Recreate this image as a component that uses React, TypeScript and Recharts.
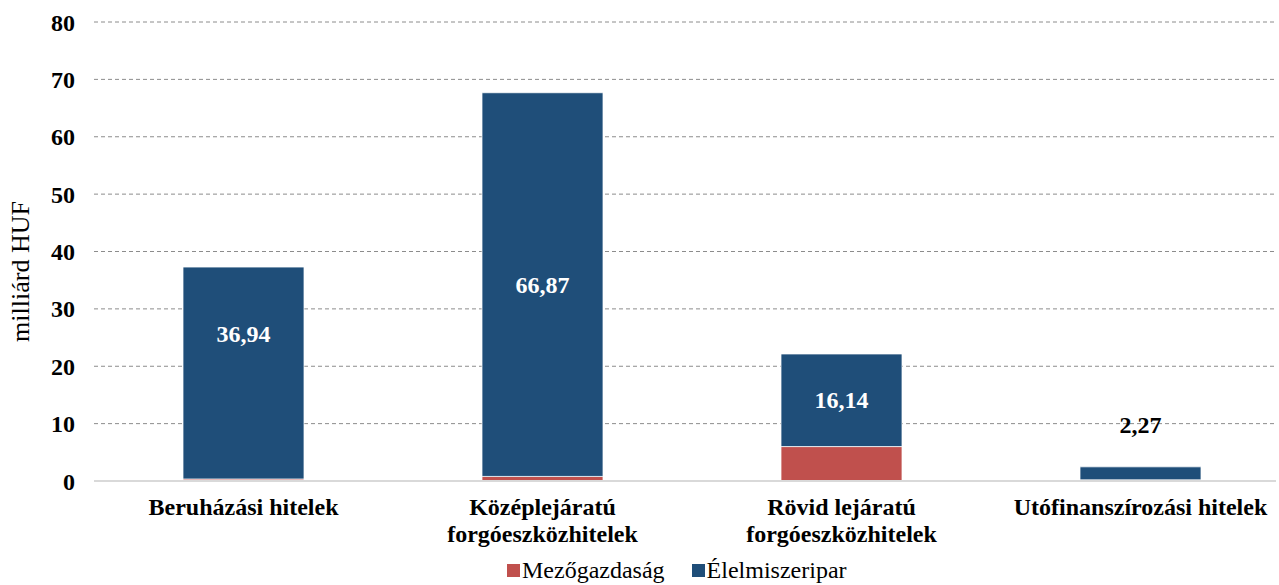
import { BarChart, Bar, XAxis, YAxis, CartesianGrid, Legend, LabelList } from 'recharts';

const CATEGORIES = [
  'Beruházási hitelek',
  'Középlejáratú\nforgóeszközhitelek',
  'Rövid lejáratú\nforgóeszközhitelek',
  'Utófinanszírozási hitelek',
];
const MEZOGAZDASAG = [0.35, 0.8, 6.0, 0.2];
const ELELMISZERIPAR = [36.94, 66.87, 16.14, 2.27];
const Y_TICKS = [0, 10, 20, 30, 40, 50, 60, 70, 80];

const RED = '#c0504d';
const BLUE = '#1f4e79';
const FONT = '"Liberation Serif", "Times New Roman", serif';

// label nudges (px) for the inside labels, as in the original
const LABEL_SHIFT = [-39, 0, 0, 0];

const data = CATEGORIES.map((name, i) => ({
  name,
  mezo: MEZOGAZDASAG[i],
  elel: ELELMISZERIPAR[i],
}));

const fmt = (v: number) => v.toFixed(2).replace('.', ',');

function CategoryTick({ x, y, payload }: any) {
  const lines = String(payload.value).split('\n');
  return (
    <text x={x} y={y} textAnchor="middle" fontFamily={FONT} fontWeight="bold" fontSize={24} fill="#000">
      {lines.map((l, i) => (
        <tspan key={i} x={x} dy={i === 0 ? 26 : 27}>{l}</tspan>
      ))}
    </text>
  );
}

function ValueLabel(props: any) {
  const { x, y, width, height, value, index } = props;
  const cx = x + width / 2;
  if (height > 40) {
    return (
      <text x={cx} y={y + height / 2 + LABEL_SHIFT[index]} textAnchor="middle" dominantBaseline="central"
        fontFamily={FONT} fontWeight="bold" fontSize={24} fill="#fff">
        {fmt(value)}
      </text>
    );
  }
  return (
    <text x={cx} y={y - 42} textAnchor="middle" dominantBaseline="central"
      fontFamily={FONT} fontWeight="bold" fontSize={24} fill="#000">
      {fmt(value)}
    </text>
  );
}

function LegendContent() {
  const items = [
    { label: 'Mezőgazdaság', color: RED },
    { label: 'Élelmiszeripar', color: BLUE },
  ];
  return (
    <div style={{ display: 'flex', height: 30, alignItems: 'center', fontFamily: FONT, fontSize: 24, color: '#000' }}>
      {items.map(it => (
        <span key={it.label} style={{ display: 'flex', alignItems: 'center', marginRight: 27 }}>
          <span style={{ width: 13, height: 13, background: it.color, marginRight: 2, display: 'inline-block' }} />
          {it.label}
        </span>
      ))}
    </div>
  );
}

export default function App() {
  return (
    <div style={{ position: 'absolute', left: 0, top: 0, width: 1276, height: 585, overflow: 'hidden', background: '#fff' }}>
      <BarChart width={1300} height={585} data={data} margin={{ top: 22, right: 10, left: 0, bottom: 0 }}>
        <CartesianGrid vertical={false} stroke="#8c8c8c" strokeDasharray="4 3" />
        <XAxis dataKey="name" height={74} tick={<CategoryTick />} tickLine={false} interval={0}
          axisLine={{ stroke: '#d9d9d9', strokeWidth: 2 }} />
        <YAxis width={94} domain={[0, 80]} ticks={Y_TICKS} axisLine={false} tickLine={false}
          tickSize={0} tickMargin={19}
          tick={{ fontFamily: FONT, fontWeight: 'bold', fontSize: 24, fill: '#000' }}
          label={{
            content: ({ viewBox }: any) => (
              <text transform={`rotate(-90 ${viewBox.x + 20} ${viewBox.y + viewBox.height / 2 + 20})`}
                x={viewBox.x + 20} y={viewBox.y + viewBox.height / 2 + 20}
                textAnchor="middle" dominantBaseline="central" fontFamily={FONT} fontSize={26} fill="#000">
                milliárd HUF
              </text>
            ),
          }} />
        <Legend verticalAlign="bottom" content={<LegendContent />}
          wrapperStyle={{ left: 507, width: 420, bottom: 0, height: 30 }} />
        <Bar dataKey="mezo" name="Mezőgazdaság" stackId="a" fill={RED} barSize={121}
          stroke="#ffffff" strokeWidth={0.75} isAnimationActive={false} />
        <Bar dataKey="elel" name="Élelmiszeripar" stackId="a" fill={BLUE} barSize={121}
          stroke="#ffffff" strokeWidth={0.75} isAnimationActive={false}>
          <LabelList dataKey="elel" content={<ValueLabel />} />
        </Bar>
      </BarChart>
    </div>
  );
}
